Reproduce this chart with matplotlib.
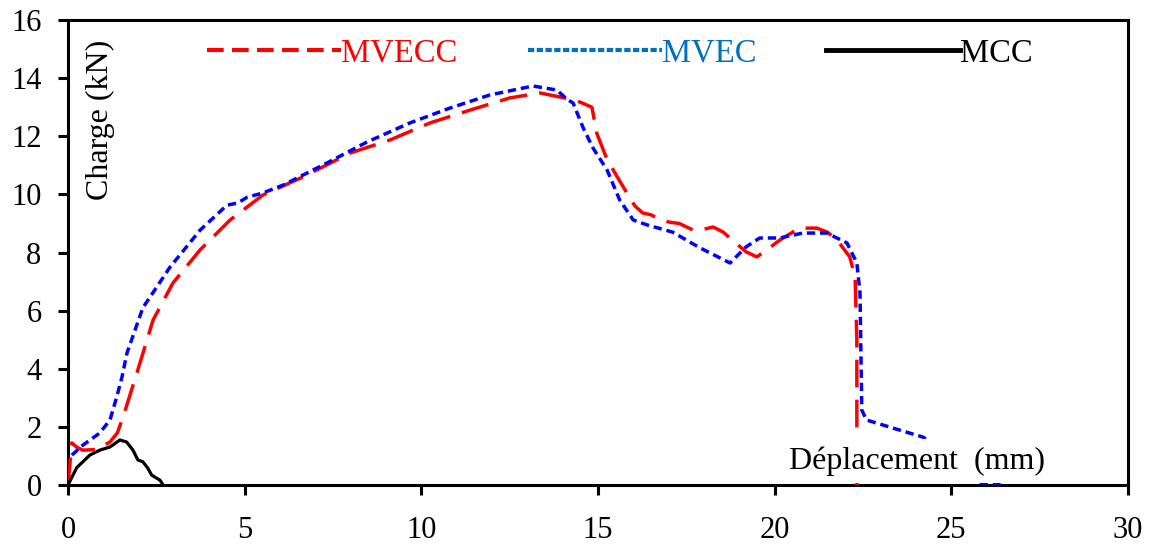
import matplotlib
matplotlib.use("Agg")
import matplotlib.pyplot as plt
from matplotlib.lines import Line2D

plt.rcParams['font.family'] = ['Liberation Serif', 'DejaVu Serif']

# MVECC (red dashed)
mvecc_x = [0.0, 0.11, 0.25, 0.42, 0.8, 1.19, 1.4, 1.56, 1.95, 2.41, 2.97, 3.74, 4.59, 5.52,
           6.65, 7.98, 9.11, 10.25, 11.38, 12.51, 13.36, 13.93, 14.35, 14.83, 14.97, 15.26, 15.55, 15.82,
           16.05, 16.27, 16.5, 16.67, 17.0, 17.3, 17.7, 18.0, 18.26, 18.55, 18.8, 19.2, 19.5, 19.78,
           20.15, 20.7, 21.2, 21.5, 21.77, 22.13, 22.28, 22.33, 22.33]
mvecc_y = [0.0, 1.45, 1.3, 1.2, 1.22, 1.48, 1.8, 2.34, 3.85, 5.68, 6.95, 8.09, 9.12, 9.98,
           10.6, 11.42, 11.87, 12.46, 12.9, 13.32, 13.49, 13.35, 13.25, 13.0, 12.1, 11.2, 10.6, 10.05,
           9.6, 9.36, 9.3, 9.19, 9.05, 9.0, 8.77, 8.8, 8.88, 8.7, 8.43, 8.02, 7.85, 8.09, 8.43, 8.84,
           8.84, 8.7, 8.43, 7.85, 7.16, 5.0, 0.0]

# MVEC (blue dotted)
mvec_x = [0.11, 0.42, 0.9, 1.19, 1.38, 1.53, 1.67, 2.12, 2.89, 3.74, 4.5, 4.8, 5.07, 5.52, 6.09, 7.33,
          8.46, 9.68, 10.81, 11.94, 13.16, 13.84, 14.1, 14.3, 14.58, 14.86, 15.26, 15.62, 16.0, 16.39, 17.12,
          17.89, 18.74, 19.2, 19.58, 20.15, 20.8, 21.48, 22.05, 22.33, 22.42, 22.47, 22.6, 23.35, 24.2,
          24.9, 25.5, 25.7, 26.4]
mvec_y = [1.03, 1.37, 1.79, 2.24, 3.03, 3.72, 4.54, 6.1, 7.5, 8.77, 9.63, 9.7, 9.9, 10.05, 10.32, 11.08,
          11.8, 12.46, 12.97, 13.42, 13.73, 13.59, 13.3, 13.14, 12.3, 11.6, 10.84, 9.8, 9.12, 8.95, 8.7,
          8.16, 7.64, 8.2, 8.5, 8.5, 8.67, 8.67, 8.33, 7.64, 6.6, 2.58, 2.24, 1.96, 1.65, 1.1, 0.4, 0.08, 0.05]

# MCC (black solid)
mcc_x = [0.0, 0.25, 0.62, 0.9, 1.19, 1.47, 1.66, 1.84, 1.98, 2.12, 2.26, 2.37, 2.6, 2.66]
mcc_y = [0.0, 0.6, 1.03, 1.2, 1.31, 1.55, 1.48, 1.2, 0.86, 0.8, 0.58, 0.34, 0.17, 0.07]

labels = ["MVECC", "MVEC", "MCC"]
label_colors = ["#FF0000", "#0070C0", "#000000"]

fig = plt.figure(figsize=(11.52, 5.47), dpi=100)
ax = fig.add_axes([0.059, 0.1133, 0.92, 0.8501])

ax.plot(mvecc_x, mvecc_y, color="#FF0000", lw=2.5, dashes=(8, 3.5), zorder=3)
ax.plot(mvec_x, mvec_y, color="#0000FF", lw=2.5, dashes=(2.4, 1.4), zorder=3)
ax.plot(mcc_x, mcc_y, color="#000000", lw=2.3, zorder=3)

ax.set_xlim(0, 30)
ax.set_ylim(0, 16)
ax.set_xticks(range(0, 31, 5))
ax.set_yticks(range(0, 17, 2))
for s in ax.spines.values():
    s.set_linewidth(2.2)
ax.tick_params(axis='both', direction='out', length=7, width=2.2, labelsize=22)
ax.tick_params(axis='x', pad=15)
ax.tick_params(axis='y', pad=12)

# legend proxies
h1 = Line2D([], [], color="#FF0000", lw=3, dashes=(4, 2))
h2 = Line2D([], [], color="#0070C0", lw=3, dashes=(1.5, 0.6))
h3 = Line2D([], [], color="#000000", lw=3.5)
leg = ax.legend([h1, h2, h3], labels, loc='upper left', bbox_to_anchor=(0.107, 1.017), ncol=3,
                frameon=False, fontsize=23.5, handlelength=4.1, handletextpad=0.0, columnspacing=2.15,
                borderpad=0.3, labelcolor=label_colors)

ax.text(0.031, 0.785, "Charge (kN)", transform=ax.transAxes, rotation=90, ha='center', va='center',
        fontsize=23)
ax.text(0.801, 0.052, "Déplacement  (mm)", transform=ax.transAxes, ha='center', va='center',
        fontsize=23, bbox=dict(facecolor='white', edgecolor='none', pad=5), zorder=4)

fig.savefig("out.png", dpi=100)
